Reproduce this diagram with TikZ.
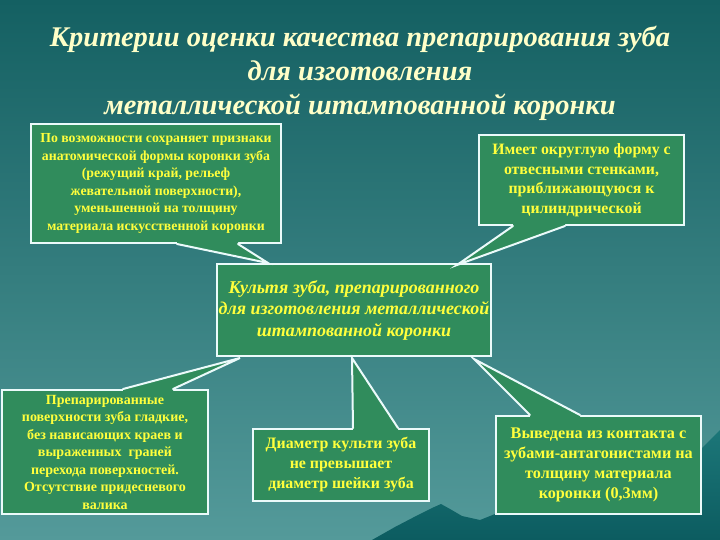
\documentclass[tikz,border=0pt]{standalone}
\usepackage{fontspec}
\setmainfont{Liberation Serif}
\usetikzlibrary{calc}
\definecolor{bgtop}{RGB}{20,96,98}
\definecolor{bgbot}{RGB}{84,154,154}
\definecolor{boxgreen}{RGB}{48,140,92}
\definecolor{txtyellow}{RGB}{255,255,60}
\definecolor{titlecol}{RGB}{255,255,200}
\definecolor{mountA}{RGB}{28,118,120}
\definecolor{mountB}{RGB}{12,92,96}
\definecolor{edge}{RGB}{235,250,250}
\begin{document}
\begin{tikzpicture}[x=1pt,y=-1pt,
  bubble/.style={draw=edge, line width=2pt, fill=boxgreen, inner sep=0pt,
    text=txtyellow, font=\bfseries, align=center, anchor=north west},
  ptrfill/.style={fill=boxgreen},
  ptrline/.style={draw=edge, line width=2pt, line cap=round},
  titletext/.style={text=titlecol, font=\fontsize{28.5}{34}\selectfont\bfseries\itshape, align=center}]
% background
\shade[top color=bgtop, bottom color=bgbot] (0,0) rectangle (720,540);
\useasboundingbox (0,0) rectangle (720,540);
% mountain silhouette
\shade[top color=mountA, bottom color=mountB]
  (372,540) -- (395,527) -- (418,515) -- (432,508) -- (441,504) -- (450,509)
  -- (462,516) -- (480,520) -- (500,512) -- (560,495) -- (640,470) -- (700,450)
  -- (720,430) -- (720,540) -- cycle;
% title
\node[titletext] (title) at (360,73) {Критерии оценки качества препарирования зуба\\для изготовления\\металлической штампованной коронки};
% central box
\node[bubble, minimum width=274, minimum height=92,
  font=\fontsize{18}{21.5}\selectfont\bfseries\itshape] (c) at (216,263)
  {Культя зуба, препарированного\\для изготовления металлической\\штампованной коронки};
% box 1 (top left)
\node[bubble, minimum width=250, minimum height=119,
  font=\fontsize{13.8}{17.5}\selectfont\bfseries] (b1) at (30,123)
  {По возможности сохраняет признаки\\анатомической формы коронки зуба\\(режущий край, рельеф\\жевательной поверхности),\\уменьшенной на толщину\\материала искусственной коронки};
\coordinate (t1) at ($(c.north west)+(52,0)$);
\coordinate (p1a) at ($(b1.south west)+(147,0)$);
\coordinate (p1b) at ($(b1.south west)+(208,0)$);
\fill[ptrfill] ($(p1a)+(0,-3)$) -- (p1a) -- (t1) -- (p1b) -- ($(p1b)+(0,-3)$) -- cycle;
\draw[ptrline] (p1a) -- (t1) -- (p1b);
% box 2 (top right)
\node[bubble, minimum width=205, minimum height=90,
  font=\fontsize{15.8}{19.5}\selectfont\bfseries] (b2) at (478,134)
  {Имеет округлую форму с\\отвесными стенками,\\приближающуюся к\\цилиндрической};
\coordinate (t2) at ($(c.north east)+(-35,2)$);
\coordinate (p2a) at ($(b2.south west)+(35,0)$);
\coordinate (p2b) at ($(b2.south west)+(87,0)$);
\fill[ptrfill] ($(p2a)+(0,-3)$) -- (p2a) -- (t2) -- (p2b) -- ($(p2b)+(0,-3)$) -- cycle;
\draw[ptrline] (p2a) -- (t2) -- (p2b);
% box 4 (bottom left)
\node[bubble, minimum width=206, minimum height=124,
  font=\fontsize{14}{17.5}\selectfont\bfseries] (b4) at (1,389)
  {Препарированные\\поверхности зуба гладкие,\\без нависающих краев и\\выраженных\ \ граней\\перехода поверхностей.\\Отсутствие придесневого\\валика};
\coordinate (t4) at ($(c.south west)+(24,1)$);
\coordinate (p4a) at ($(b4.north west)+(122,0)$);
\coordinate (p4b) at ($(b4.north west)+(172,0)$);
\fill[ptrfill] ($(p4a)+(0,3)$) -- (p4a) -- (t4) -- (p4b) -- ($(p4b)+(0,3)$) -- cycle;
\draw[ptrline] (p4a) -- (t4) -- (p4b);
% box 5 (bottom middle)
\node[bubble, minimum width=176, minimum height=72,
  font=\fontsize{15.9}{20}\selectfont\bfseries] (b5) at (252,428)
  {Диаметр культи зуба\\не превышает\\диаметр шейки зуба};
\coordinate (t5) at ($(c.south west)+(136,1)$);
\coordinate (p5a) at ($(b5.north west)+(101,0)$);
\coordinate (p5b) at ($(b5.north west)+(146,0)$);
\fill[ptrfill] ($(p5a)+(0,3)$) -- (p5a) -- (t5) -- (p5b) -- ($(p5b)+(0,3)$) -- cycle;
\draw[ptrline] (p5a) -- (t5) -- (p5b);
% box 6 (bottom right)
\node[bubble, minimum width=205, minimum height=98,
  font=\fontsize{16.2}{20}\selectfont\bfseries] (b6) at (495,415)
  {Выведена из контакта с\\зубами-антагонистами на\\толщину материала\\коронки (0,3мм)};
\coordinate (t6) at ($(c.south east)+(-18,2)$);
\coordinate (p6a) at ($(b6.north west)+(35,0)$);
\coordinate (p6b) at ($(b6.north west)+(85,0)$);
\fill[ptrfill] ($(p6a)+(0,3)$) -- (p6a) -- (t6) -- (p6b) -- ($(p6b)+(0,3)$) -- cycle;
\draw[ptrline] (p6a) -- (t6) -- (p6b);
\end{tikzpicture}
\end{document}
